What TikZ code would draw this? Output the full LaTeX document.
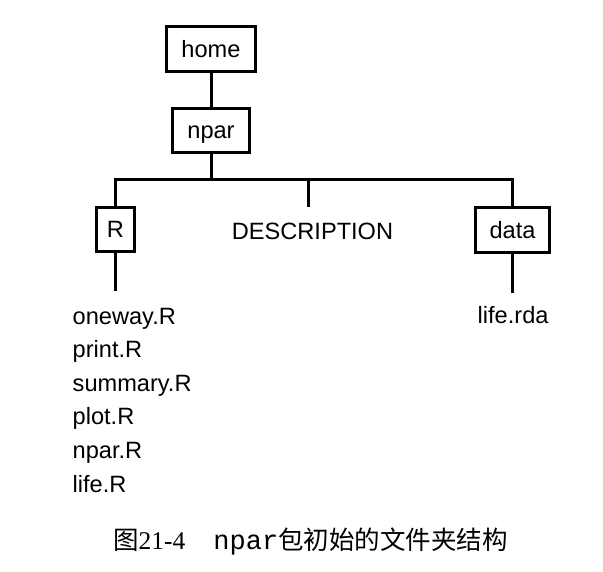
\documentclass[tikz,border=0pt]{standalone}
\usepackage{fontspec}
\setmainfont{Liberation Sans}
\newfontfamily\cjk{Noto Sans CJK SC}
\newfontfamily\capserif{Liberation Serif}
\newfontfamily\capmono{Liberation Mono}
\begin{document}
\begin{tikzpicture}[x=1pt,y=-1pt,
  every node/.style={font=\fontsize{23.6}{28}\selectfont},
  dirbox/.style={draw,line width=3pt,inner sep=0pt,text height=16.9pt,text depth=0pt,anchor=center},
  conn/.style={line width=3pt},
  fileitem/.style={anchor=base west,inner sep=0pt}]
\useasboundingbox (0,0) rectangle (603,571);
% boxes
\node[dirbox,minimum width=89pt,minimum height=45pt] (home) at (211,49) {home};
\node[dirbox,minimum width=77pt,minimum height=44pt] (npar) at (211,130.5) {npar};
\node[dirbox,minimum width=38pt,minimum height=44pt] (R) at (115.5,229.5) {R};
\node[dirbox,minimum width=74pt,minimum height=45pt] (data) at (512.5,230) {data};
\node[anchor=base,inner sep=0pt] (desc) at (312.5,239) {DESCRIPTION};
% coordinates
\coordinate (j) at (211,179);
\coordinate (dstub) at (308,207);
\coordinate (rend) at (115.5,291);
\coordinate (dend) at (512.5,293);
% connectors
\draw[conn] (home.south) -- (npar.north);
\draw[conn] (npar.south) -- (j);
\draw[conn] (R.north) |- (j) -| (data.north);
\draw[conn] (j -| dstub) -- (dstub);
\draw[conn] (R.south) -- (rend);
\draw[conn] (data.south) -- (dend);
% files
\node[fileitem] (f1) at (72.5,324) {oneway.R};
\node[fileitem] (f2) at (72.5,357.6) {print.R};
\node[fileitem] (f3) at (72.5,391.2) {summary.R};
\node[fileitem] (f4) at (72.5,424.8) {plot.R};
\node[fileitem] (f5) at (72.5,458.4) {npar.R};
\node[fileitem] (f6) at (72.5,492) {life.R};
\node[fileitem] (g1) at (477.5,323) {life.rda};
% caption
\node[anchor=base west,inner sep=0pt] (cap) at (113,549)
  {{\fontsize{25.5}{30}\cjk 图}{\fontsize{25.5}{30}\capserif 21-4}\hspace{28pt}{\fontsize{27}{30}\capmono npar}{\fontsize{25.5}{30}\cjk 包初始的文件夹结构}};
\end{tikzpicture}
\end{document}
